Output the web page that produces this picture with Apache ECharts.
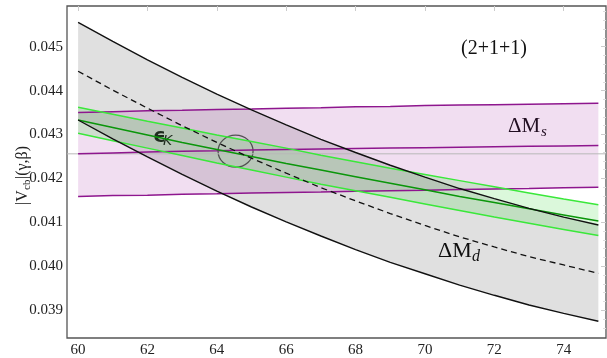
<!DOCTYPE html>
<html><head><meta charset="utf-8">
<script src="https://cdn.jsdelivr.net/npm/echarts@6/dist/echarts.min.js"></script>
<style>html,body{margin:0;padding:0;background:#fff}#c{width:607px;height:358px}</style>
</head><body><div id="c"></div>
<script>
// ---- data ----
const gammaX = [60,61,62,63,64,65,66,67,68,69,70,71,72,73,74,75];
const dMdUpper   = [0.04555,0.04512,0.04470,0.04430,0.04392,0.04356,0.04322,0.04289,0.04259,0.04230,0.04203,0.04177,0.04154,0.04132,0.04112,0.04094];
const dMdCentral = [0.04444,0.04401,0.04360,0.04320,0.04282,0.04246,0.04212,0.04179,0.04149,0.04120,0.04093,0.04067,0.04044,0.04022,0.04003,0.03984];
const dMdLower   = [0.04333,0.04290,0.04249,0.04209,0.04171,0.04135,0.04101,0.04069,0.04038,0.04009,0.03983,0.03957,0.03934,0.03912,0.03893,0.03875];
const dMsUpper   = [0.04350,0.04352,0.04354,0.04355,0.04357,0.04358,0.04360,0.04361,0.04363,0.04364,0.04366,0.04367,0.04368,0.04369,0.04370,0.04371];
const dMsCentral = [0.04256,0.04258,0.04260,0.04262,0.04263,0.04265,0.04266,0.04267,0.04268,0.04269,0.04270,0.04271,0.04272,0.04273,0.04274,0.04275];
const dMsLower   = [0.04159,0.04161,0.04162,0.04164,0.04165,0.04167,0.04168,0.04169,0.04171,0.04172,0.04173,0.04175,0.04176,0.04177,0.04179,0.04180];
const epsUpper   = [0.04362,0.04346,0.04330,0.04315,0.04299,0.04284,0.04269,0.04253,0.04238,0.04223,0.04209,0.04195,0.04181,0.04167,0.04153,0.04140];
const epsCentral = [0.04333,0.04316,0.04299,0.04282,0.04266,0.04250,0.04234,0.04219,0.04204,0.04189,0.04174,0.04159,0.04145,0.04131,0.04117,0.04103];
const epsLower   = [0.04303,0.04286,0.04269,0.04252,0.04235,0.04219,0.04203,0.04187,0.04172,0.04157,0.04142,0.04127,0.04112,0.04098,0.04084,0.04070];
const refLineValue = 0.04256;
const circlePoint = [64.54, 0.04262];
const xTicks = [60,62,64,66,68,70,72,74];
const yTicks = [0.039,0.040,0.041,0.042,0.043,0.044,0.045];
const yMinorTicks = [0.0386,0.0388,0.0392,0.0394,0.0396,0.0398,0.0402,0.0404,0.0406,0.0408,0.0412,0.0414,0.0416,0.0418,0.0422,0.0424,0.0426,0.0428,0.0432,0.0434,0.0436,0.0438,0.0442,0.0444,0.0446,0.0448,0.0452,0.0454,0.0456,0.0458];

const X_MIN = 59.68, X_MAX = 75.22, Y_MIN = 0.038368, Y_MAX = 0.045925;
const SERIF = '"Liberation Serif","DejaVu Serif",serif';
const zip = a => gammaX.map((x,i)=>[x,a[i]]);

function band(upper, lower, color) {
  return {
    type:'custom', silent:true, clip:true,
    data:[[gammaX[0], upper[0]]],
    renderItem:function(params, api){
      const pts=[];
      for(let i=0;i<gammaX.length;i++) pts.push(api.coord([gammaX[i],upper[i]]));
      for(let i=gammaX.length-1;i>=0;i--) pts.push(api.coord([gammaX[i],lower[i]]));
      return {type:'polygon', shape:{points:pts}, style:{fill:color}};
    }
  };
}
function line(data, color, width, type) {
  return {type:'line', data:data, showSymbol:false, silent:true,
    lineStyle:{color:color, width:width, type:type||'solid'}};
}

const chart = echarts.init(document.getElementById('c'));
const BLACK='#111', PURPLE='#8e168e', LIME='#3ae83a', DGREEN='#0a960a';
chart.setOption({
  animation:false,
  grid:{left:67, right:1, top:6, bottom:17, show:true, borderColor:'#555', borderWidth:1.3, backgroundColor:'transparent'},
  xAxis:[
    {type:'value', min:X_MIN, max:X_MAX, splitLine:{show:false}, axisLine:{show:false},
     axisTick:{show:false},
     axisLabel:{customValues:xTicks, fontFamily:SERIF, fontSize:15, color:'#222', margin:5}},
    {type:'value', position:'top', min:X_MIN, max:X_MAX, splitLine:{show:false}, axisLine:{show:false},
     axisTick:{inside:true, customValues:xTicks, length:5, lineStyle:{color:'#ccc'}}, axisLabel:{show:false}}
  ],
  yAxis:[
    {type:'value', min:Y_MIN, max:Y_MAX, splitLine:{show:false}, axisLine:{show:false},
     axisTick:{show:false},
     axisLabel:{customValues:yTicks, formatter:v=>v.toFixed(3), fontFamily:SERIF, fontSize:15, color:'#222', margin:4}},
    {type:'value', position:'right', min:Y_MIN, max:Y_MAX, splitLine:{show:false}, axisLine:{show:false},
     axisTick:{inside:true, customValues:yTicks, length:5, lineStyle:{color:'#ccc'}}, axisLabel:{show:false}},
    {type:'value', position:'right', min:Y_MIN, max:Y_MAX, splitLine:{show:false}, axisLine:{show:false},
     axisTick:{inside:true, customValues:yMinorTicks, length:3, lineStyle:{color:'#ddd'}}, axisLabel:{show:false}}
  ],
  series:[
    band(dMdUpper, dMdLower, 'rgba(0,0,0,0.12)'),
    band(dMsUpper, dMsLower, 'rgba(150,0,150,0.13)'),
    band(epsUpper, epsLower, 'rgba(30,210,30,0.16)'),
    line([[X_MIN, refLineValue],[X_MAX, refLineValue]], '#b8b8b8', 1),
    line(zip(dMsCentral), PURPLE, 1.5),
    line(zip(dMsUpper), PURPLE, 1.5),
    line(zip(dMsLower), PURPLE, 1.5),
    line(zip(epsUpper), LIME, 1.5),
    line(zip(epsLower), LIME, 1.5),
    line(zip(epsCentral), DGREEN, 1.5),
    line(zip(dMdUpper), BLACK, 1.4),
    line(zip(dMdLower), BLACK, 1.4),
    line(zip(dMdCentral), BLACK, 1.3, [6,4]),
    {type:'scatter', data:[circlePoint], symbol:'circle', symbolSize:[35,32], silent:true,
     itemStyle:{color:'transparent', borderColor:'#333', borderWidth:1.2}}
  ],
  graphic:[
    {type:'text', x:494, y:49, style:{text:'(2+1+1)', font:'20px '+SERIF, fill:'#111', textAlign:'center', textVerticalAlign:'middle'}},
    {type:'text', x:508, y:126, style:{text:'ΔM', font:'21px '+SERIF, fill:'#111', textAlign:'left', textVerticalAlign:'middle'}},
    {type:'text', x:541, y:132, style:{text:'s', font:'italic 15px '+SERIF, fill:'#111', textAlign:'left', textVerticalAlign:'middle'}},
    {type:'text', x:438, y:251, style:{text:'ΔM', font:'22px '+SERIF, fill:'#111', textAlign:'left', textVerticalAlign:'middle'}},
    {type:'text', x:472, y:257, style:{text:'d', font:'italic 16px '+SERIF, fill:'#111', textAlign:'left', textVerticalAlign:'middle'}},
    {type:'text', x:153, y:137, style:{text:'ϵ', font:'bold 20px "DejaVu Sans",sans-serif', fill:'#111', textAlign:'left', textVerticalAlign:'middle'}},
    {type:'text', x:163, y:141, style:{text:'K', font:'italic 14px "DejaVu Sans",sans-serif', fill:'#111', textAlign:'left', textVerticalAlign:'middle'}},
    {type:'group', x:23, y:172, rotation:Math.PI/2, children:[
      {type:'text', x:-33, y:0, style:{text:'|V', font:'16px '+SERIF, fill:'#222', textAlign:'left', textVerticalAlign:'middle'}},
      {type:'text', x:-18, y:4, style:{text:'cb', font:'11px '+SERIF, fill:'#222', textAlign:'left', textVerticalAlign:'middle'}},
      {type:'text', x:-7, y:0, style:{text:'|(γ,β)', font:'16px '+SERIF, fill:'#222', textAlign:'left', textVerticalAlign:'middle'}}
    ]}
  ]
});
</script></body></html>
